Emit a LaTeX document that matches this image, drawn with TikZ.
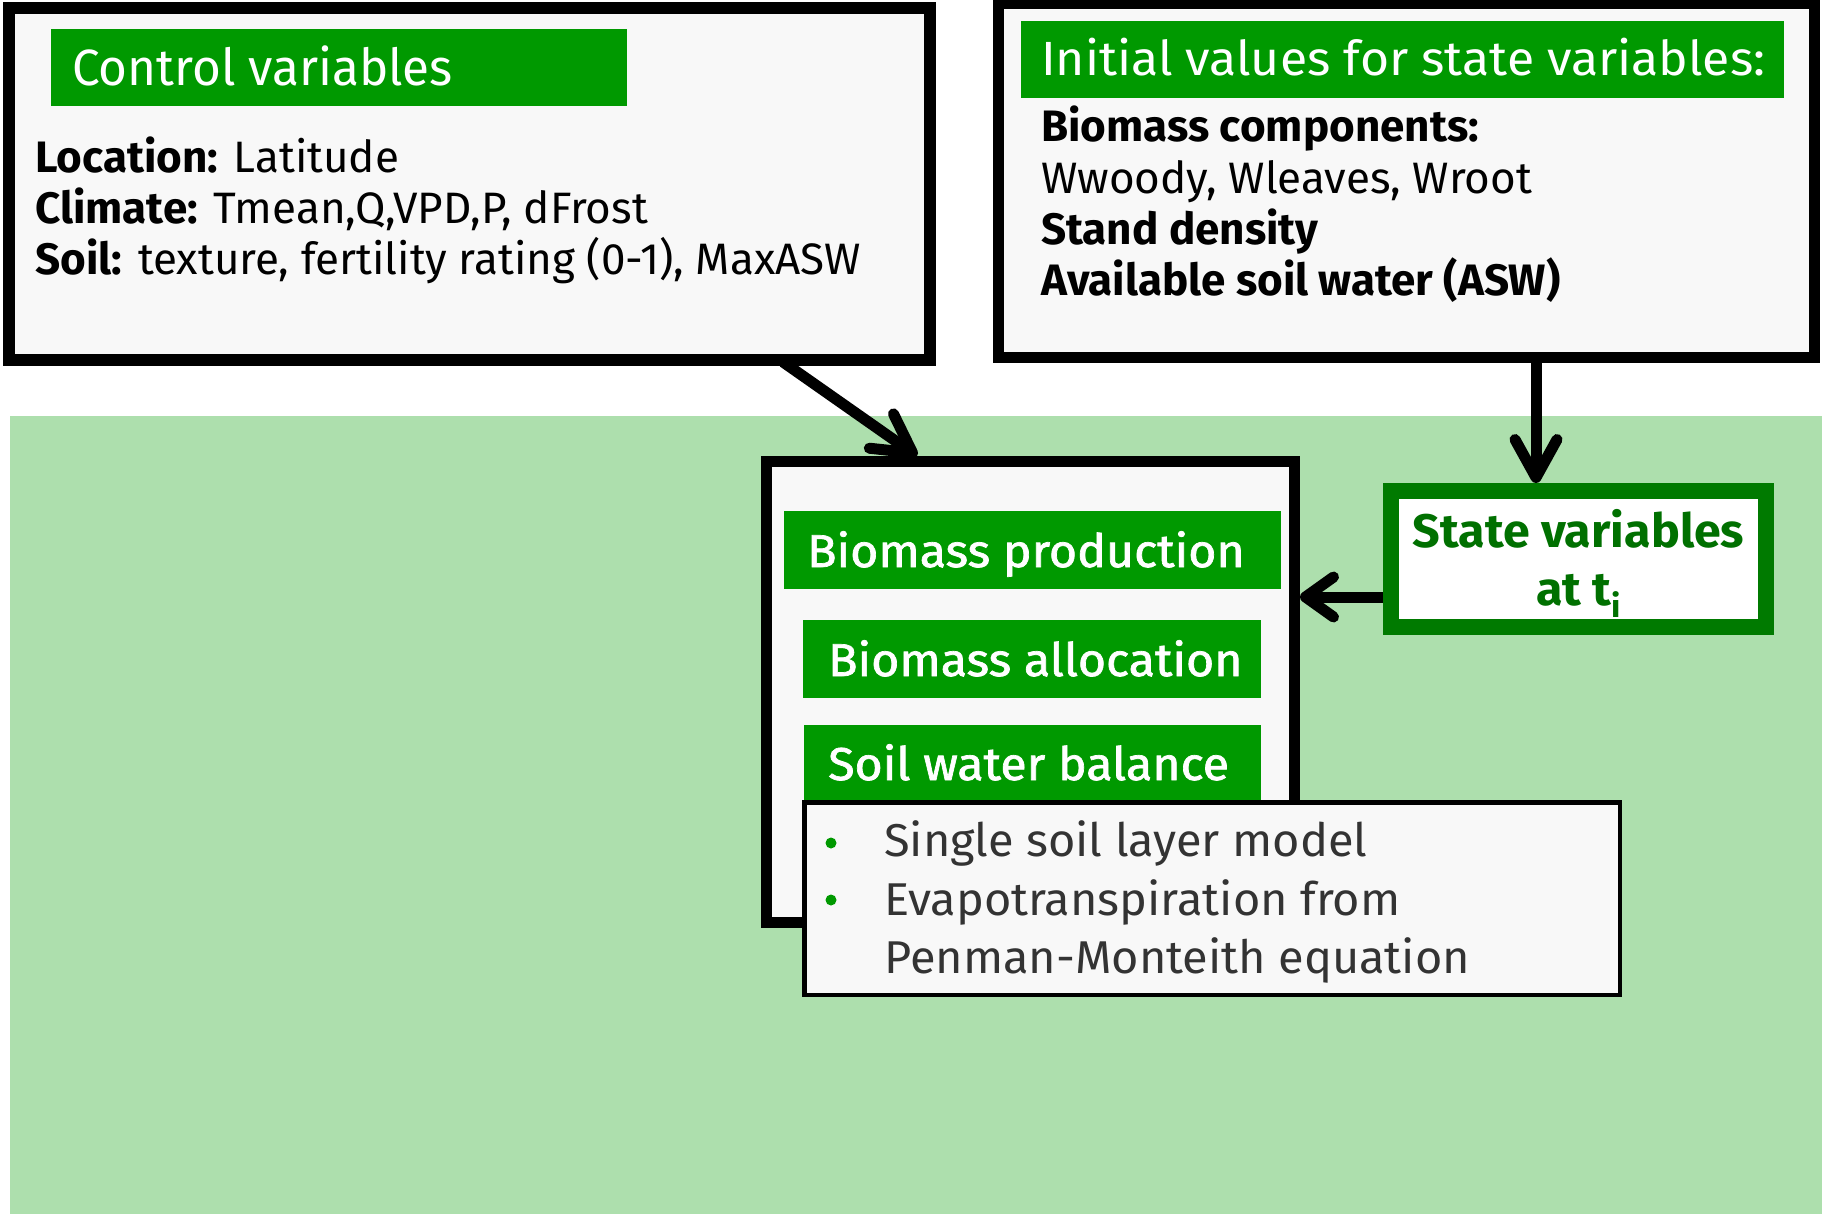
\documentclass[tikz,border=0pt]{standalone}
\usepackage{fontspec}
\setmainfont{Fira Sans}
\newfontfamily\ctitle{Fira Sans}[FakeStretch=0.97]
\newfontfamily\ititle{Fira Sans}[FakeStretch=1.04]
\newfontfamily\semib{Fira Sans}[FakeStretch=1.05, FakeBold=1.5]
\newfontfamily\bulf{Fira Sans}[FakeStretch=1.02]
\newfontfamily\statef{Fira Sans}[FakeStretch=1.03]
\usetikzlibrary{arrows.meta}
\definecolor{bggreen}{RGB}{173,223,173}
\definecolor{titlegreen}{RGB}{0,153,0}
\definecolor{boxfill}{RGB}{248,248,248}
\definecolor{stategreen}{RGB}{0,122,0}
\definecolor{statetext}{RGB}{0,112,0}
\definecolor{bullettext}{RGB}{51,51,51}
\tikzset{
  bigbox/.style={draw=black, fill=boxfill, line width=12pt, inner sep=0pt, anchor=north west},
  titlebar/.style={fill=titlegreen, inner sep=0pt, outer sep=0pt, anchor=north west},
  txt/.style={inner sep=0pt, anchor=base west, font=\fontsize{44pt}{51pt}\selectfont},
  titletxt/.style={txt, text=white},
  bartxt/.style={txt, text=white, font=\fontsize{46pt}{52pt}\semib},
  bultxt/.style={txt, text=bullettext, font=\fontsize{46pt}{52pt}\bulf},
  bulletdot/.style={circle, fill=titlegreen, inner sep=0pt, minimum size=11pt},
  statetxt/.style={inner sep=0pt, anchor=base, text=statetext, font=\fontsize{47pt}{52pt}\statef\bfseries},
  arr/.style={draw=black, line width=11pt, line cap=butt, -{Straight Barb[length=38pt,width=42pt,round]}},
  arrsmall/.style={arr, -{Straight Barb[length=28pt,width=40pt,round]}},
}
\begin{document}
\begin{tikzpicture}[x=1pt,y=-1pt]
\useasboundingbox (0,0) rectangle (1822,1214);
% background
\fill[bggreen] (10,416) rectangle (1822,1214);
% control variables box
\node[bigbox, minimum width=921pt, minimum height=352pt] (ctrl) at (3,2) {};
\node[titlebar, minimum width=576pt, minimum height=77pt] (ctrltitle) at (51,29) {};
\node[titletxt, font=\fontsize{51pt}{56pt}\ctitle] (ctrlt) at (72,86) {Control variables};
\node[txt] (loc) at (35,173) {\textbf{Location:} Latitude};
\node[txt] (clim) at (35,224) {\textbf{Climate:} Tmean,Q,VPD,P, dFrost};
\node[txt] (soil) at (35,275) {\textbf{Soil:} texture, fertility rating (0-1), MaxASW};
% initial values box
\node[bigbox, line width=11pt, minimum width=816pt, minimum height=353pt] (init) at (993,-1.5) {};
\node[titlebar, minimum width=763pt, minimum height=77pt] (inittitle) at (1021,21) {};
\node[titletxt, font=\fontsize{48pt}{54pt}\ititle] (initt) at (1041,76) {Initial values for state variables:};
\node[txt] (bc) at (1041,142) {\textbf{Biomass components:}};
\node[txt] (ww) at (1041,194) {Wwoody, Wleaves, Wroot};
\node[txt] (sd) at (1041,245) {\textbf{Stand density}};
\node[txt] (asw) at (1041,296) {\textbf{Available soil water (ASW)}};
% process box
\node[bigbox, line width=11pt, minimum width=528pt, minimum height=461pt] (proc) at (761,456) {};
\node[titlebar, minimum width=497pt, minimum height=78pt] (bp) at (783.5,511) {};
\node[bartxt] (bpt) at (807,567) {Biomass production};
\node[titlebar, minimum width=458pt, minimum height=78pt] (ba) at (803,620) {};
\node[bartxt] (bat) at (828,676) {Biomass allocation};
\node[titlebar, minimum width=457pt, minimum height=78pt] (sw) at (804,725) {};
\node[bartxt] (swt) at (828,780) {Soil water balance};
% bullet box
\node[bigbox, line width=4.5pt, minimum width=815.5pt, minimum height=192.5pt] (bul) at (802,800) {};
\node[bulletdot] (d1) at (831,843) {};
\node[bulletdot] (d2) at (831,900) {};
\node[bultxt] (b1) at (884,856) {Single soil layer model};
\node[bultxt] (b2) at (884,915) {Evapotranspiration from};
\node[bultxt] (b3) at (884,973) {Penman-Monteith equation};
% state variables box
\node[draw=stategreen, fill=white, line width=16pt, inner sep=0pt, anchor=north west,
      minimum width=375pt, minimum height=136pt] (state) at (1383,483) {};
\node[statetxt] (st1) at (1578.5,547) {State variables};
\node[statetxt] (st2) at (1578.5,605) {at t\raisebox{-12pt}{\fontsize{32pt}{32pt}\selectfont i}};
% connectors
\coordinate (c1) at (783,362);
\draw[arr] (c1) -- (917,0 |- proc.north);
\draw[arr] (1536,0 |- init.south) -- (1536,0 |- state.north);
\draw[arrsmall] (state.west |- 0,597) -- (proc.east |- 0,597);
\end{tikzpicture}
\end{document}
